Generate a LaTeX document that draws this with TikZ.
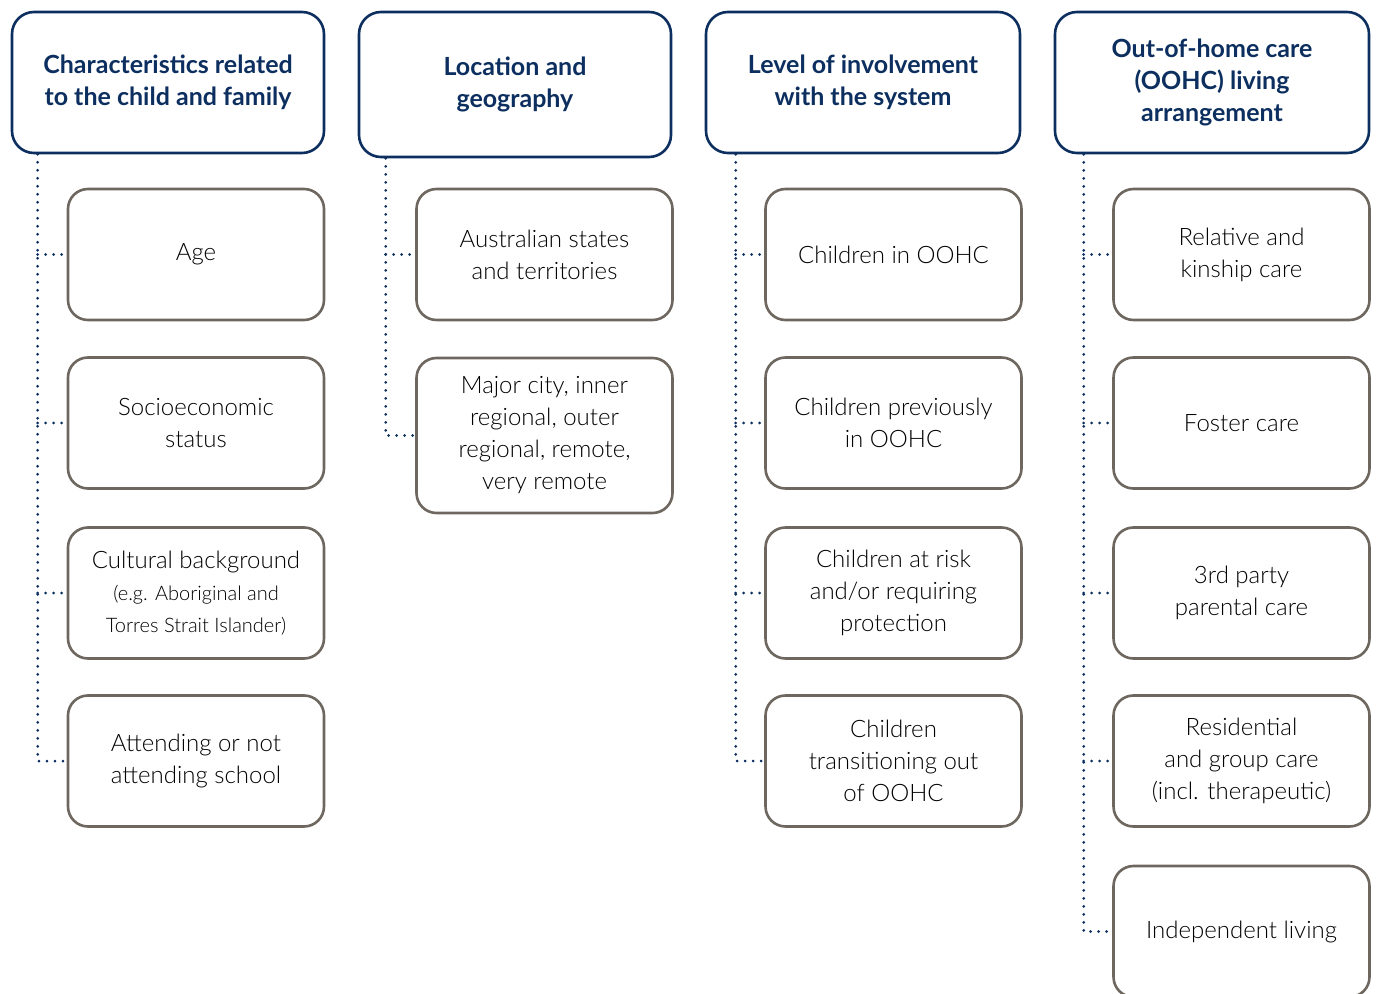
\documentclass[tikz,border=0pt]{standalone}
\usepackage{fontspec}
\setmainfont{Lato}[UprightFont={* Light},BoldFont={* Bold}]
\definecolor{navy}{HTML}{0C2F5F}
\definecolor{boxgray}{HTML}{6E675F}
\newcommand{\smalltxt}[1]{{\fontsize{10}{16}\selectfont #1}}
\begin{document}
\begin{tikzpicture}[x=0.5pt,y=-0.5pt,line join=round,
	head/.style={draw=navy,line width=1.3pt,rounded corners=11pt,minimum width=156pt,minimum height=70.5pt,align=center,text=navy,font=\bfseries\fontsize{12.5}{16}\selectfont},
	item/.style={draw=boxgray,line width=1.3pt,rounded corners=10pt,minimum width=128pt,minimum height=65.5pt,align=center,text=black,font=\fontsize{12}{16}\selectfont},
	conn/.style={navy,line width=1.5pt,line cap=round,dash pattern=on 0pt off 4pt}]
		\clip (0,0) rectangle (1376,994);
		\node[head] (h1) at (168,82.5) {Characteristics related\\to the child and family};
		\node[head,minimum height=72.5pt] (h2) at (515,84.5) {Location and\\geography};
		\node[head,minimum width=157pt] (h3) at (863,82.5) {Level of involvement\\with the system};
		\node[head,minimum width=157pt] (h4) at (1212,82.5) {Out-of-home care\\(OOHC) living\\arrangement};
		\node[item] (c11) at (196,254.5) {Age};
		\node[item] (c12) at (196,423) {Socioeconomic\\status};
		\node[item] (c13) at (196,593) {Cultural background\\\smalltxt{(e.g. Aboriginal and}\\\smalltxt{Torres Strait Islander)}};
		\node[item] (c14) at (196,761) {Attending or not\\attending school};
		\node[item] (c21) at (544.5,254.5) {Australian states\\and territories};
		\node[item,minimum height=77.5pt] (c22) at (544.5,435.5) {Major city, inner\\regional, outer\\regional, remote,\\very remote};
		\node[item] (c31) at (893.5,254.5) {Children in OOHC};
		\node[item] (c32) at (893.5,423) {Children previously\\in OOHC};
		\node[item] (c33) at (893.5,593) {Children at risk\\and/or requiring\\protection};
		\node[item] (c34) at (893.5,761) {Children\\transitioning out\\of OOHC};
		\node[item] (c41) at (1241.5,254.5) {Relative and\\kinship care};
		\node[item] (c42) at (1241.5,423) {Foster care};
		\node[item] (c43) at (1241.5,593) {3rd party\\parental care};
		\node[item] (c44) at (1241.5,761) {Residential\\and group care\\(incl. therapeutic)};
		\node[item] (c45) at (1241.5,931.5) {Independent living};
		\coordinate (t1) at ([xshift=13.5pt]h1.south west);
		\coordinate (t2) at ([xshift=14pt]h2.south west);
		\coordinate (t3) at ([xshift=15.5pt]h3.south west);
		\coordinate (t4) at ([xshift=15pt]h4.south west);
		\draw[conn] (t1) |- (c14.west);
		\draw[conn] (t2) |- (c22.west);
		\draw[conn] (t3) |- (c34.west);
		\draw[conn] (t4) |- (c45.west);
		\foreach \n in {1,2,3} {
			\draw[conn] (t1 |- c1\n.west) -- (c1\n.west);
			\draw[conn] (t3 |- c3\n.west) -- (c3\n.west);
		}
		\foreach \n in {1,2,3,4} \draw[conn] (t4 |- c4\n.west) -- (c4\n.west);
		\draw[conn] (t2 |- c21.west) -- (c21.west);
\end{tikzpicture}
\end{document}
